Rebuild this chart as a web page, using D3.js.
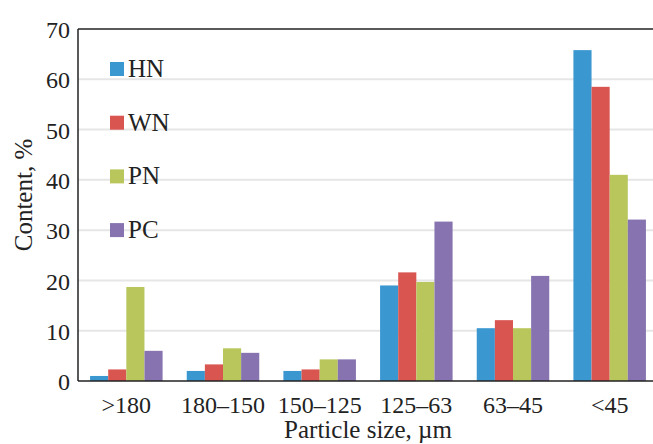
<!DOCTYPE html>
<html>
<head>
<meta charset="utf-8">
<script src="https://cdn.jsdelivr.net/npm/d3@7"></script>
<style>
  body { margin: 0; background: #fff; }
  text { font-family: "Liberation Serif", serif; fill: #222; }
</style>
</head>
<body>
<script>
var width = 653,
    height = 444;

var categories = ['>180', '180–150', '150–125', '125–63', '63–45', '<45'];
var seriesNames = ['HN', 'WN', 'PN', 'PC'];
var HN = [1.0, 2.0, 2.0, 19.0, 10.5, 65.8];
var WN = [2.3, 3.3, 2.3, 21.6, 12.1, 58.5];
var PN = [18.7, 6.5, 4.3, 19.7, 10.5, 41.0];
var PC = [6.0, 5.6, 4.3, 31.7, 20.9, 32.1];
var yTicks = [0, 10, 20, 30, 40, 50, 60, 70];

var colors = ['#3a97d0', '#d95550', '#b8c65c', '#8673b0'];
var series = [HN, WN, PN, PC];

var margin = {top: 29, left: 78, bottom: 63, right: -5};

var svg = d3.select('body')
      .append('svg')
      .attr('width', width)
      .attr('height', height);

var x0 = d3.scaleBand()
    .domain(categories)
    .range([margin.left, width - margin.right])
    .paddingInner(0.25)
    .paddingOuter(0.125);

var x1 = d3.scaleBand()
    .domain(seriesNames)
    .range([0, x0.bandwidth()]);

var y = d3.scaleLinear()
    .domain([0, 70])
    .range([height - margin.bottom, margin.top]);

// gridlines
svg.append('g')
  .selectAll('line')
  .data(yTicks.slice(1, -1))
  .enter()
  .append('line')
  .attr('x1', margin.left)
  .attr('x2', width)
  .attr('y1', (d) => y(d))
  .attr('y2', (d) => y(d))
  .style('stroke', '#e6e6e6')
  .style('stroke-width', 2);

// bars
categories.forEach((c, ci) => {
  svg.append('g')
    .attr('transform', 'translate(' + x0(c) + ',0)')
    .selectAll('rect')
    .data(seriesNames)
    .enter()
    .append('rect')
    .attr('x', (s) => x1(s))
    .attr('width', x1.bandwidth())
    .attr('y', (s, si) => y(series[si][ci]))
    .attr('height', (s, si) => y(0) - y(series[si][ci]))
    .style('fill', (s, si) => colors[si]);
});

// frame: top, left, bottom
svg.append('line')
  .attr('x1', margin.left).attr('x2', width)
  .attr('y1', y(70)).attr('y2', y(70))
  .style('stroke', '#222').style('stroke-width', 1.5);

svg.append('line')
  .attr('x1', margin.left).attr('x2', margin.left)
  .attr('y1', y(70)).attr('y2', y(0))
  .style('stroke', '#222').style('stroke-width', 1.5);

svg.append('line')
  .attr('x1', margin.left).attr('x2', width)
  .attr('y1', y(0)).attr('y2', y(0))
  .style('stroke', '#222').style('stroke-width', 1.5);

// y axis labels
var yAxis = d3.axisLeft(y)
    .tickValues(yTicks)
    .tickSize(0)
    .tickPadding(8);

var gy = svg.append('g')
  .attr('transform', 'translate(' + margin.left + ',0)')
  .call(yAxis);
gy.select('.domain').remove();
gy.selectAll('text')
  .style('font-family', '"Liberation Serif", serif')
  .style('font-size', '24px')
  .style('fill', '#222')
  .attr('dy', '0.36em');

// x axis labels
var xAxis = d3.axisBottom(x0)
    .tickSize(0)
    .tickPadding(15);

var gx = svg.append('g')
  .attr('transform', 'translate(0,' + y(0) + ')')
  .call(xAxis);
gx.select('.domain').remove();
gx.selectAll('text')
  .style('font-family', '"Liberation Serif", serif')
  .style('font-size', '24px')
  .style('fill', '#222');

// axis titles
svg.append('text')
  .attr('x', (margin.left + width - margin.right) / 2)
  .attr('y', 438)
  .attr('text-anchor', 'middle')
  .style('font-size', '25px')
  .text('Particle size, µm');

svg.append('text')
  .attr('transform', 'translate(32,195) rotate(-90)')
  .attr('text-anchor', 'middle')
  .style('font-size', '25px')
  .text('Content, %');

// legend
var legend = svg.append('g')
  .selectAll('g')
  .data(seriesNames)
  .enter()
  .append('g')
  .attr('transform', (d, i) => 'translate(110,' + (69 + i * 53.7) + ')');

legend.append('rect')
  .attr('x', 0)
  .attr('y', -7)
  .attr('width', 14)
  .attr('height', 14)
  .style('fill', (d, i) => colors[i]);

legend.append('text')
  .attr('x', 18)
  .attr('y', 8)
  .style('font-size', '25px')
  .text((d) => d);
</script>
</body>
</html>
